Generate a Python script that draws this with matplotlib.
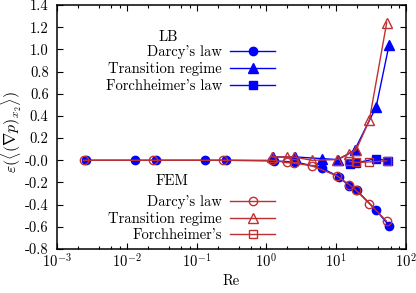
import numpy as np
import matplotlib
matplotlib.use('Agg')
import matplotlib.pyplot as plt
from matplotlib.ticker import FixedLocator, FormatStrFormatter, LogLocator

# LB (lattice Boltzmann) results
lb_darcy_re = [0.0026, 0.013, 0.026, 0.13, 0.26, 1.3, 2.6, 6.2, 11.0, 15.2, 19.6, 37.3, 57.2]
lb_darcy_err = [0.0, 0.0, 0.0, 0.0, 0.0, -0.006, -0.015, -0.07, -0.15, -0.23, -0.27, -0.45, -0.59]
lb_trans_re = [1.25, 2.6, 6.2, 10.6, 18.3, 37.3, 57.2]
lb_trans_err = [0.03, 0.03, 0.015, 0.006, 0.09, 0.48, 1.04]
lb_forch_re = [15.8, 19.0, 37.3, 56.0]
lb_forch_err = [-0.03, -0.025, 0.015, -0.005]

# FEM results
fem_darcy_re = [0.0024, 0.024, 0.24, 1.2, 1.95, 2.45, 4.5, 10.2, 15.4, 19.2, 29.8, 52.9]
fem_darcy_err = [0.0, 0.0, 0.0, 0.0, -0.02, -0.025, -0.05, -0.14, -0.22, -0.27, -0.39, -0.55]
fem_trans_re = [1.2, 1.95, 2.45, 4.5, 10.2, 15.4, 19.2, 29.8, 52.9]
fem_trans_err = [0.03, 0.03, 0.03, 0.0, 0.006, 0.06, 0.09, 0.36, 1.24]
fem_forch_re = [15.4, 19.2, 29.8, 52.9]
fem_forch_err = [-0.01, -0.02, -0.015, -0.005]

plt.rcParams['font.family'] = ['cmr10', 'DejaVu Serif']
plt.rcParams['mathtext.fontset'] = 'cm'
plt.rcParams['axes.unicode_minus'] = False
plt.rcParams['font.size'] = 10.5

blue = '#0000ff'
red = '#c03030'

fig = plt.figure(figsize=(4.16, 2.93), dpi=100)
ax = fig.add_axes([57/416, 1 - 249/293, 349/416, 244/293])

l1, = ax.plot(lb_darcy_re, lb_darcy_err, '-o', color=blue, lw=1, ms=6, label="Darcy's law")
l2, = ax.plot(lb_trans_re, lb_trans_err, '-^', color=blue, lw=1, ms=6.5, label='Transition regime')
l3, = ax.plot(lb_forch_re, lb_forch_err, '-s', color=blue, lw=1, ms=5.5, label="Forchheimer's law")

f1, = ax.plot(fem_darcy_re, fem_darcy_err, '-o', color=red, lw=1, ms=6, mfc='none', label="Darcy's law")
f2, = ax.plot(fem_trans_re, fem_trans_err, '-^', color=red, lw=1, ms=6.5, mfc='none', label='Transition regime')
f3, = ax.plot(fem_forch_re, fem_forch_err, '-s', color=red, lw=1, ms=5.5, mfc='none', label="Forchheimer's")

ax.set_xscale('log')
ax.set_xlim(1e-3, 1e2)
ax.set_ylim(-0.8, 1.4)
ax.yaxis.set_major_locator(FixedLocator(np.arange(-0.8, 1.41, 0.2)))
ax.yaxis.set_major_formatter(FormatStrFormatter('%.1f'))
ax.xaxis.set_major_locator(LogLocator(base=10, numticks=10))
ax.xaxis.set_minor_locator(LogLocator(base=10, subs=(2, 4, 6, 8), numticks=20))
ax.xaxis.set_minor_formatter(plt.NullFormatter())
ax.tick_params(which='both', direction='in', top=True, right=True, width=0.8)
ax.tick_params(which='major', length=4)
ax.tick_params(axis='y', pad=6)
ax.tick_params(axis='x', pad=3)
ax.tick_params(which='minor', length=2.5)
for sp in ax.spines.values():
    sp.set_linewidth(1.1)

ax.set_xlabel('Re', labelpad=2)
fig.text(0.027, 0.55, r'$\varepsilon(\langle(\nabla p)_{x_2}\rangle)$', fontsize=11.5,
         rotation=90, ha='center', va='center')

leg_kw = dict(frameon=False, markerfirst=False, handlelength=3.1, handletextpad=0.55,
              labelspacing=0.2, borderpad=0, borderaxespad=0, loc='upper right')
leg1 = ax.legend(handles=[l1, l2, l3], bbox_to_anchor=(0.625, 0.835), **leg_kw)
ax.add_artist(leg1)
ax.legend(handles=[f1, f2, f3], bbox_to_anchor=(0.625, 0.222), **leg_kw)
ax.text(0.318, 0.869, 'LB', transform=ax.transAxes, ha='center', va='center')
ax.text(0.33, 0.279, 'FEM', transform=ax.transAxes, ha='center', va='center')

fig.savefig('out.png', dpi=100)
